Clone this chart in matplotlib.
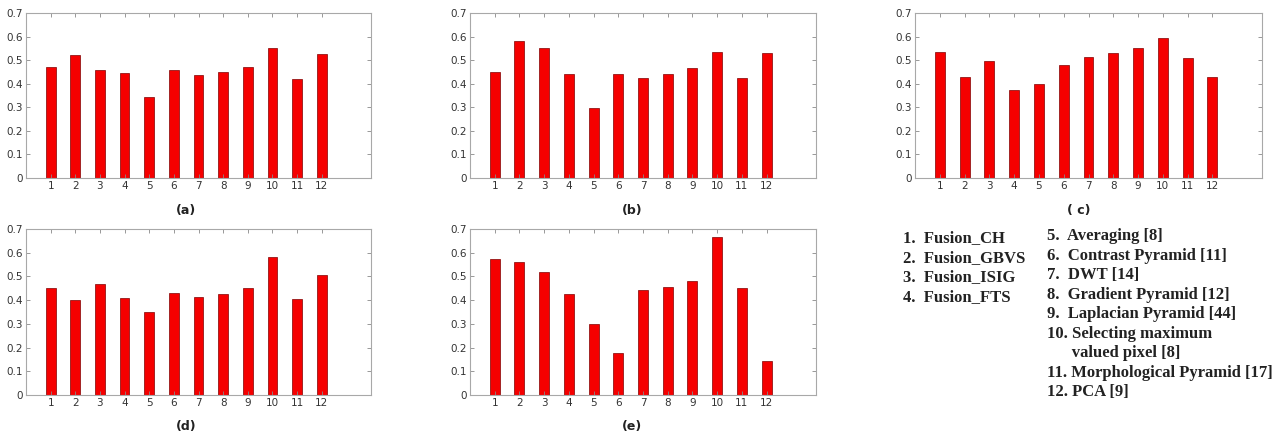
import numpy as np
import matplotlib
matplotlib.use('Agg')
import matplotlib.pyplot as plt

# methodes 1..12
methods = np.arange(1, 13)

vals_a = [0.472, 0.520, 0.457, 0.447, 0.344, 0.458, 0.436, 0.450, 0.472, 0.550, 0.420, 0.526]
vals_b = [0.448, 0.581, 0.550, 0.443, 0.297, 0.441, 0.423, 0.440, 0.468, 0.535, 0.423, 0.532]
vals_c = [0.533, 0.430, 0.495, 0.375, 0.400, 0.478, 0.515, 0.532, 0.550, 0.593, 0.509, 0.430]
vals_d = [0.452, 0.400, 0.469, 0.410, 0.349, 0.430, 0.415, 0.424, 0.452, 0.582, 0.403, 0.504]
vals_e = [0.575, 0.561, 0.520, 0.425, 0.300, 0.179, 0.442, 0.456, 0.480, 0.666, 0.452, 0.144]

captions = ['(a)', '(b)', '( c)', '(d)', '(e)']

legend_left = ['1.  Fusion_CH', '2.  Fusion_GBVS', '3.  Fusion_ISIG', '4.  Fusion_FTS']
legend_right = ['5.  Averaging [8]', '6.  Contrast Pyramid [11]', '7.  DWT [14]',
                '8.  Gradient Pyramid [12]', '9.  Laplacian Pyramid [44]',
                '10. Selecting maximum', '      valued pixel [8]',
                '11. Morphological Pyramid [17]', '12. PCA [9]']

W, H = 1276, 436
fig = plt.figure(figsize=(W / 100, H / 100), dpi=100)

# positions des axes en pixels (gauche, haut, droite, bas)
boxes = [(26, 13, 371, 178), (470, 13, 816, 178), (915, 13, 1262, 178),
         (26, 229, 371, 395), (470, 229, 816, 395)]
cap_pos = [(186, 210), (632, 210), (1079, 210), (186, 426), (632, 426)]
data = [vals_a, vals_b, vals_c, vals_d, vals_e]

spine_col = '#a8a8a8'
for vals, (l, t, r, b), cap, (cx, cy) in zip(data, boxes, captions, cap_pos):
    ax = fig.add_axes([l / W, 1 - b / H, (r - l) / W, (b - t) / H])
    ax.bar(methods, vals, width=0.4, color='#f50000', edgecolor='#800000', linewidth=0.5)
    ax.set_xlim(0, 14)
    ax.set_ylim(0, 0.7)
    ax.set_xticks(methods)
    ax.set_yticks(np.arange(0, 0.71, 0.1))
    ax.set_yticklabels(['0'] + ['%.1f' % v for v in np.arange(0.1, 0.71, 0.1)])
    ax.tick_params(direction='in', top=True, right=True, length=3, width=0.6,
                   color='#888888', labelsize=7.5, labelcolor='#333333', pad=2)
    for s in ax.spines.values():
        s.set_color(spine_col)
        s.set_linewidth(0.8)
    fig.text(cx / W, 1 - cy / H, cap, ha='center', va='center',
             fontsize=9, fontweight='bold', color='#222222')

# legende en texte
for i, s in enumerate(legend_left):
    fig.text(903 / W, 1 - (238 + 19.6 * i) / H, s, ha='left', va='center',
             family='Liberation Serif', fontweight='bold', fontsize=12, color='#222222')
for i, s in enumerate(legend_right):
    fig.text(1047 / W, 1 - (236 + 19.55 * i) / H, s, ha='left', va='center',
             family='Liberation Serif', fontweight='bold', fontsize=12, color='#222222')

fig.savefig('out.png', dpi=100)
